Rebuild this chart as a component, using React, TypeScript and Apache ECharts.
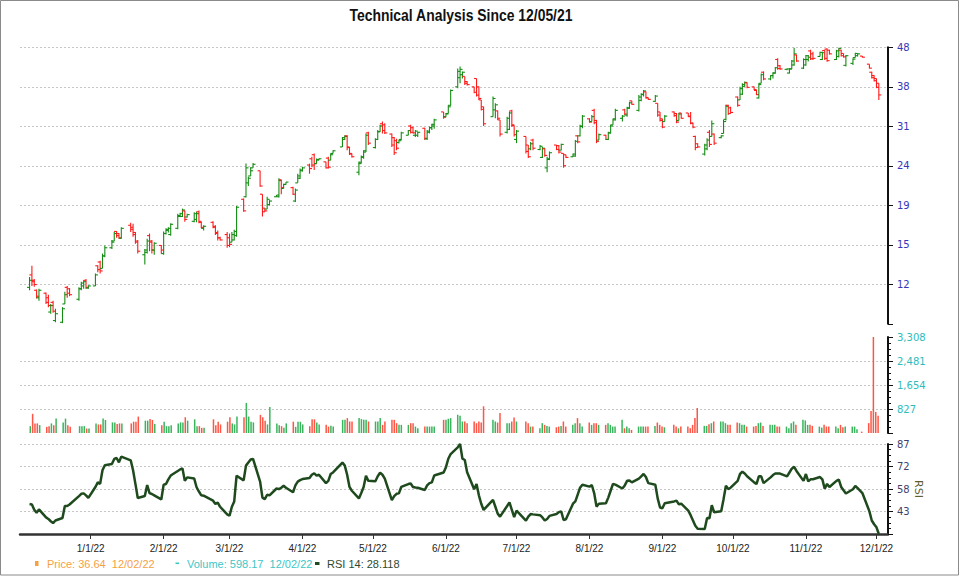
import { useEffect, useRef } from 'react';
import * as echarts from 'echarts';

// ---------------- DATA ----------------
const holidays = ['2021-12-24', '2022-01-17', '2022-02-21', '2022-04-15', '2022-05-30', '2022-06-20', '2022-07-04', '2022-09-05', '2022-11-24'];
const firstTradingDay = '2021-12-06';

// [open, high, low, close] per trading day, 12/06/21 .. 12/02/22
const ohlc: number[][] = [
  [12.0,12.75,11.8,12.5],[12.9,13.6,12.1,12.4],[12.5,12.6,12.05,12.2],[11.8,11.85,11.25,11.4],[11.3,11.9,11.1,11.8],
  [11.6,11.65,10.9,11.0],[11.3,11.5,10.7,10.8],[10.4,10.9,10.3,10.8],[11.0,11.1,10.35,10.45],[9.9,10.6,9.8,10.3],
  [9.8,10.7,9.75,10.6],[10.9,11.7,10.9,11.5],[12.0,12.1,11.3,11.6],[11.9,11.95,11.4,11.5],
  [11.2,12.0,11.1,11.9],[11.9,12.4,11.8,12.3],[12.1,12.5,11.9,12.4],[12.5,12.6,11.9,12.0],[11.95,12.15,11.9,12.1],
  [12.1,13.0,12.1,12.9],[13.6,13.65,13.1,13.3],[13.9,14.0,13.0,13.2],[13.4,14.6,13.4,14.4],[14.4,15.3,14.3,15.1],
  [15.1,15.8,15.0,15.6],[15.7,16.55,15.7,16.4],[16.6,16.65,16.0,16.2],[16.4,16.45,15.9,16.0],[15.95,17.0,15.9,16.9],
  [17.2,17.45,16.55,16.8],[17.0,17.35,16.1,16.3],[16.5,16.55,15.45,15.6],[15.7,15.8,14.6,14.8],
  [14.5,15.0,13.7,14.9],[14.7,15.9,14.6,15.7],[16.2,16.4,14.8,15.6],[15.7,15.8,14.6,14.9],[14.9,15.6,14.5,15.5],
  [15.3,15.35,14.6,14.9],
  [14.6,16.6,14.5,16.4],[16.4,16.9,16.3,16.8],[16.7,17.0,16.5,16.9],[16.3,17.4,16.2,17.3],
  [16.9,18.4,16.8,18.2],[18.1,18.5,18.1,18.4],[18.1,18.95,18.05,18.8],[18.7,18.75,17.55,17.8],[18.05,18.4,18.0,18.3],
  [17.6,18.55,17.5,18.4],[17.8,18.6,17.5,18.4],[18.6,18.75,17.4,17.6],[17.5,17.55,16.9,17.0],[16.9,17.2,16.7,17.1],
  [17.5,17.6,16.9,17.0],[17.1,17.2,16.25,16.4],[16.5,16.7,15.75,16.0],[16.0,16.1,15.75,15.8],
  [16.3,16.55,15.1,15.3],
  [16.0,16.4,15.15,15.4],[15.6,16.55,15.6,16.3],[15.8,16.75,15.75,16.6],[16.2,19.25,16.1,19.1],
  [20.0,20.1,18.6,18.7],[20.3,24.6,20.2,24.0],[22.0,22.8,21.6,22.6],[22.9,24.1,22.9,23.6],[24.0,24.7,24.0,24.5],
  [23.6,23.6,21.5,21.6],[20.6,20.6,18.1,18.6],[19.0,19.0,18.6,18.7],[18.9,20.3,18.9,20.0],[19.4,19.9,19.3,19.8],
  [20.3,20.5,20.3,20.5],[20.3,22.6,20.2,22.3],[22.4,22.4,20.6,21.4],[21.3,21.9,21.3,21.8],[21.8,22.1,21.8,22.1],
  [21.4,21.5,20.5,20.6],[19.8,21.3,19.7,21.1],[22.0,23.2,22.0,22.9],[22.6,23.9,22.5,23.6],
  [23.7,24.15,23.5,24.0],
  [24.4,24.6,23.2,23.9],[25.3,25.6,24.1,24.4],[25.9,26.1,23.7,24.6],[24.6,25.35,24.6,25.2],[25.1,25.35,25.1,25.3],
  [24.85,24.85,23.9,24.0],[25.4,25.6,23.9,24.1],[25.1,26.1,25.1,25.9],[26.1,26.6,26.1,26.5],
  [27.1,28.7,27.1,28.6],[28.3,29.0,28.2,28.8],[28.9,29.0,26.6,27.0],[27.1,27.1,25.85,26.0],[26.1,26.1,25.5,25.6],
  [23.4,24.9,23.0,24.8],[24.6,25.8,24.6,25.6],[25.5,26.6,25.3,26.5],[26.3,29.3,26.3,29.0],[29.4,29.6,27.4,27.7],
  [27.0,28.5,26.85,28.3],[28.3,29.9,28.2,29.6],[29.6,30.8,29.6,30.6],[31.0,31.4,29.3,29.8],[30.8,31.1,29.2,29.4],
  [29.2,29.3,27.1,27.4],[28.6,28.7,25.85,26.2],[28.1,28.4,26.6,26.9],[27.8,28.2,27.65,28.1],[28.3,29.6,28.2,29.4],
  [29.0,29.9,29.0,29.8],[30.6,30.8,29.3,29.5],[30.3,30.5,29.3,29.4],[29.0,29.9,28.7,29.7],[29.0,29.6,28.7,29.5],
  [30.2,30.3,28.2,28.5],[28.4,29.9,28.2,29.7],[29.5,30.5,29.3,30.3],[30.3,31.0,29.9,30.9],[30.6,31.9,30.1,31.7],
  [33.2,33.2,31.9,32.2],
  [32.3,33.0,32.3,32.8],[32.9,34.5,32.9,34.2],[34.5,37.8,34.4,37.6],
  [38.4,42.7,38.1,42.0],[40.5,43.2,39.2,42.5],[41.2,42.0,40.3,41.8],[40.8,40.8,38.8,39.2],[39.6,39.7,38.7,38.9],
  [38.4,38.4,37.0,37.2],[40.3,40.3,36.3,36.6],[38.4,38.5,35.6,35.9],[35.6,35.6,33.5,33.7],[34.2,34.2,30.6,31.0],
  [32.3,36.3,32.3,35.9],[33.6,34.9,32.0,34.6],[33.4,33.5,31.7,32.0],[31.7,31.7,28.8,29.2],
  [29.5,32.3,29.3,32.0],[30.0,33.3,29.9,33.0],[33.4,33.6,30.4,30.8],[30.7,30.7,28.8,29.1],
  [28.3,29.9,27.7,29.7],
  [28.8,28.8,26.1,26.4],[27.4,27.4,25.4,25.6],[26.8,27.9,26.6,27.6],[28.2,28.4,26.6,26.9],
  [26.7,27.4,26.6,27.2],[25.5,27.1,25.4,26.9],[26.8,26.9,25.6,25.8],[24.0,25.6,23.4,25.3],[25.2,26.4,25.1,26.2],
  [27.4,27.4,26.6,26.7],[27.3,27.4,26.1,26.3],[26.6,27.6,26.6,27.5],[26.1,26.1,24.0,24.3],[25.9,25.9,25.4,25.5],
  [25.6,26.1,25.6,26.0],[25.7,28.2,25.6,28.0],[28.9,29.0,27.7,27.9],[28.9,30.8,28.8,30.5],[30.6,32.6,30.2,32.4],
  [31.9,32.0,31.2,31.3],[31.4,32.6,31.4,32.3],[33.5,33.8,30.9,31.2],[31.6,31.7,27.7,28.0],[28.2,29.3,28.2,29.1],
  [29.0,29.1,28.2,28.3],[28.3,29.6,28.2,29.4],[29.4,30.8,29.3,30.6],[30.8,31.9,30.8,31.7],[31.9,33.8,31.6,33.5],
  [32.0,32.6,31.4,32.4],[33.6,33.8,32.6,32.8],[32.6,34.2,32.3,33.9],[34.0,35.2,33.8,35.0],[35.4,35.4,34.6,34.7],
  [33.5,36.6,33.3,36.2],[35.5,37.0,35.3,36.8],[36.7,37.7,36.3,37.5],[37.3,37.4,35.9,36.1],[36.0,36.0,35.6,35.7],
  [35.3,36.6,35.2,36.4],[34.9,34.9,32.3,32.6],[33.2,33.2,31.4,31.6],
  [31.9,31.9,30.2,30.4],[31.4,32.6,31.4,32.4],
  [33.2,33.3,32.3,32.5],[32.9,33.0,31.1,31.3],[31.6,33.0,31.6,32.8],[33.0,33.0,31.9,32.0],
  [33.0,33.0,32.3,32.4],[32.3,33.2,30.9,31.1],[31.1,31.2,30.2,30.4],[28.8,28.9,26.6,27.0],[27.6,27.7,27.0,27.1],
  [26.0,27.6,25.8,27.4],[26.8,28.5,26.6,28.2],[29.5,29.9,27.1,27.5],[28.8,31.6,28.8,31.0],[29.2,29.3,27.4,27.7],
  [28.6,29.0,28.5,28.9],[29.3,31.7,29.3,31.4],[31.8,34.6,31.6,34.3],[34.5,34.6,32.6,32.9],[34.0,34.2,32.9,33.1],
  [36.2,36.3,34.2,34.5],[35.6,38.4,35.6,38.0],[36.8,39.2,36.6,38.9],[38.5,39.6,38.4,39.4],[39.3,39.4,38.1,38.3],
  [38.4,38.4,37.7,37.8],[37.6,37.7,36.6,36.7],[36.0,39.2,35.9,38.9],[39.2,41.5,39.2,41.2],[41.8,42.0,39.9,40.2],
  [40.2,41.1,39.9,41.0],[41.0,41.8,40.3,41.6],[41.6,43.1,41.5,42.9],[45.0,45.3,42.4,42.7],[43.4,43.6,42.4,42.6],
  [42.5,42.7,42.3,42.6],[41.6,42.8,41.5,42.6],[42.6,44.9,42.6,44.6],[43.6,48.2,43.4,46.5],[46.2,46.3,44.4,44.6],
  [42.8,45.3,42.6,45.0],
  [43.6,46.2,43.4,46.0],[45.0,46.2,44.5,45.6],[47.3,47.6,44.9,45.2],[46.5,47.1,44.9,45.3],
  [45.8,47.1,45.8,46.9],[45.0,47.1,44.9,46.8],[47.4,47.6,44.9,45.3],[47.8,48.0,44.4,44.7],[47.5,47.6,46.3,46.5],
  [45.0,47.6,44.9,47.3],[45.8,48.2,45.5,48.0],[47.5,47.6,45.8,46.0],[46.6,46.6,45.5,45.7],[43.5,46.2,43.2,46.0],
  [44.0,45.3,43.6,45.1],[45.5,46.8,45.5,46.6],[46.0,46.6,45.8,46.5],[45.9,45.9,45.5,45.6],
  [43.8,43.8,42.7,42.8],[41.8,41.9,40.3,40.5],[41.0,41.1,39.6,39.8],
  [40.3,40.3,38.1,38.3],[39.2,39.2,35.6,36.64],
];

const volume: number[] = [
  236,660,330,330,271, 212,236,330,271,496, 366,496,271,212, 236,236,236,153,153,
  330,295,295,496,448, 366,366,307,330,330, 330,389,389,566, 425,425,484,448,307, 271,
  389,236,236,271, 330,366,366,543,425, 472,236,236,177,177, 472,271,389,295, 389,
  543,330,295,566, 543,1038,566,389,366, 625,543,425,295,897, 330,271,236,177,330, 389,212,389,389,
  295, 236,472,472,366,295, 280,221,250,221, 454,454,513,396,396, 513,480,454,454,396,
  396,396,513,280,396, 454,454,338,280,280, 280,338,338,221,163, 221,221,221,221,221, 454,
  454,490,513, 629,594,396,396,340, 396,338,396,361,920, 454,396,361,687, 338,338,396,536,
  396, 396,338,221,221, 163,338,280,245,221, 198,221,245,396,221, 280,338,513,338,221,
  361,280,338,338,280, 280,338,280,221,221, 454,163,221,163,105, 221,221,221,221,221, 245,361,280,
  221,198, 280,221,163,221, 221,163,280,513,862, 245,245,303,338,396, 396,396,338,280,280,
  361,338,280,280,221, 221,245,338,361,245, 280,280,280,221,221, 221,163,338,396,280, 454,
  431,280,280,245, 221,186,280,221,221, 221,163,280,198,221, 221,221,128,47, 340,760,3308,
  725,598.17,
];

const rsi: number[] = [
  47.8,47.5,44,42,44.3, 39,38,36.5,35.3,37, 38.6,46.5,46.5,47.5, 53,54.5,54.8,53.5,51.8,
  59,62,61,70,73.3, 74.1,77.4,78,75.2,78.9, 76.5,70,61,51.8, 53.1,60.3,55,54.4,53.5, 50.8,
  60.5,60.9,64,66.5, 69.5,70.5,71.2,63,65.3, 64.5,58.8,56,53.5,53.3, 50,47.8,48.7,46, 41,
  40.1,46,49.5,66.4, 63.3,73,75,77,77.4, 62.5,52,51,53.9,53.5, 58,57.6,58.5,59.8,58.5, 55.5,60,62.5,63.5,
  64.2, 64.9,67,68,66.4,67, 61.5,63,67.5,68.5, 75,73,67,59,56.5, 51.5,55,59,66.4,63,
  62.7,66,68.3,67,64.5, 50.4,53,54.5,54.8,59, 60.9,61.3,59,58.6,58.5, 57,60,61.5,62,66.5, 68.5,
  72,77.5,80.6, 85,87.2,77.6,76.7,68.7, 57.5,60.9,53.5,48,43.9, 50.5,46,41.5,39.5, 46.5,48.9,44,39.2,
  43.5, 36.9,39.5,41.2,41, 40.5,39,37,38,40, 41.2,42.5,43,37.3,37.8, 48,49.5,54,58.5,60.5,
  59.2,60.3,55,46.1,48, 48.3,52,56.5,61,60.5, 58,60,63,63.2,62, 64.5,66,67.5,65.5,61.5, 60.5,51.5,45.5,
  45,48.3, 49.5,50,47.6,48, 43.5,40.5,37,33.5,31.5, 31.4,38.6,38.5,47,42.4, 43,51,59.8,57.6,58.5,
  63,67.5,69,67.8,66, 62,60.9,66,66,61.5, 65.3,66.8,67.8,67.9,67.8, 66,68.5,71,72.2,69.5, 63,
  67.5,62.7,64,64.1, 65.5,64,57.8,61,59, 63,63.8,59,56.8,54.7, 57.5,59.6,58.2,55, 43,37,34.5,
  32.5,28.118,
];

const priceTickLabels = ['48', '38', '31', '24', '19', '15', '12'];
const PRICE_TOP = 48.3;   // value at the top gridline
const PRICE_STEP = 1.2575; // ratio between neighbouring price gridlines (log scale)

const TITLE = 'Technical Analysis Since 12/05/21';

// ---------------- HELPERS ----------------
const DAY = 86400000;

function tradingDays(count: number): number[] {
  const hol = new Set(holidays);
  const out: number[] = [];
  const [y, m, d] = firstTradingDay.split('-').map(Number);
  for (let t = Date.UTC(y, m - 1, d); out.length < count; t += DAY) {
    const dt = new Date(t);
    const wd = dt.getUTCDay();
    if (wd === 0 || wd === 6) continue;
    if (hol.has(dt.toISOString().slice(0, 10))) continue;
    out.push(t);
  }
  return out;
}

const pad = (n: number) => (n < 10 ? '0' + n : '' + n);
const fmtDate = (t: number) => {
  const d = new Date(t);
  return `${pad(d.getUTCMonth() + 1)}/${pad(d.getUTCDate())}/${String(d.getUTCFullYear()).slice(2)}`;
};

const logStep = Math.log(PRICE_STEP);
const toU = (p: number) => Math.log(PRICE_TOP / p) / logStep;

export default function App() {
  const ref = useRef<HTMLDivElement>(null);

  useEffect(() => {
    if (!ref.current) return;
    const chart = echarts.init(ref.current, null, { renderer: 'svg' });

    const dates = tradingDays(ohlc.length);
    const up = ohlc.map((b) => b[3] >= b[0]);
    const last = dates.length - 1;

    const xMin = Date.UTC(2021, 11, 5) - 3.06 * DAY;
    const xMax = Date.UTC(2021, 11, 5) + 365.9 * DAY;

    const maxVol = Math.max(...volume);
    const rsiMin = Math.min(...rsi);
    const rsiMax = Math.max(...rsi);

    const UP = '#148c14';
    const DOWN = '#ff1a1a';
    const VUP = '#3bb45e';
    const VDOWN = '#ff5545';
    const GRID_LINE = { color: '#c6c6c6', type: [2, 2] as any, width: 1 };
    const AXIS_LINE = { color: '#111', width: 2 };

    const hiddenX = (i: number) => ({
      type: 'time', gridIndex: i, min: xMin, max: xMax,
      axisLine: { show: false }, axisTick: { show: false }, axisLabel: { show: false }, splitLine: { show: false },
    });

    const option: any = {
      animation: false,
      useUTC: true,
      backgroundColor: '#ffffff',
      grid: [
        { left: 20, right: 72, top: 47.3, height: 276.5, outerBoundsMode: 'none' },
        { left: 20, right: 72, top: 337, height: 96, outerBoundsMode: 'none' },
        { left: 20, right: 72, top: 444, height: 90, outerBoundsMode: 'none' },
      ],
      xAxis: [
        hiddenX(0),
        hiddenX(1),
        {
          type: 'time', gridIndex: 2, min: xMin, max: xMax,
          splitNumber: 12, minInterval: 28 * DAY, maxInterval: 31 * DAY,
          axisLine: { show: true, lineStyle: { color: '#333', width: 2.5 } },
          axisTick: { show: true, length: 5, lineStyle: { color: '#333', width: 1 } },
          axisLabel: {
            margin: 9, fontSize: 10, fontFamily: 'Liberation Sans, Arial, sans-serif', color: '#222',
            hideOverlap: false,
            formatter: (v: number) => {
              const d = new Date(v);
              if (d.getUTCDate() !== 1 || d.getUTCHours() !== 0) return '';
              return `${d.getUTCMonth() + 1}/1/${String(d.getUTCFullYear()).slice(2)}`;
            },
          },
          splitLine: { show: false },
        },
      ],
      yAxis: [
        {
          type: 'value', gridIndex: 0, position: 'right', inverse: true,
          min: 0, max: priceTickLabels.length, interval: 1,
          axisLine: { show: true, lineStyle: AXIS_LINE },
          axisTick: { show: true, length: 5, lineStyle: { color: '#111' } },
          axisLabel: {
            margin: 9, fontSize: 10, fontFamily: 'DejaVu Sans, Verdana, sans-serif', color: '#3535b8',
            formatter: (v: number) => {
              const k = Math.round(v);
              return Math.abs(v - k) < 1e-6 && priceTickLabels[k] ? priceTickLabels[k] : '';
            },
          },
          splitLine: { show: true, showMaxLine: false, lineStyle: GRID_LINE },
        },
        {
          type: 'value', gridIndex: 1, position: 'right',
          min: 0, max: maxVol, interval: maxVol / 4,
          axisLine: { show: true, lineStyle: AXIS_LINE },
          axisTick: { show: true, length: 5, lineStyle: { color: '#111' } },
          minorTick: { show: true, splitNumber: 4, length: 3, lineStyle: { color: '#111' } },
          axisLabel: {
            margin: 9, fontSize: 10, fontFamily: 'DejaVu Sans, Verdana, sans-serif', color: '#2dbcbc',
            formatter: (v: number) => (v <= 0 ? '' : Math.round(v).toLocaleString('en-US')),
          },
          splitLine: { show: true, showMinLine: false, showMaxLine: false, lineStyle: GRID_LINE },
        },
        {
          type: 'value', gridIndex: 2, position: 'right',
          min: rsiMin, max: rsiMax, interval: (rsiMax - rsiMin) / 4,
          axisLine: { show: true, lineStyle: AXIS_LINE },
          axisTick: { show: true, length: 5, lineStyle: { color: '#111' } },
          minorTick: { show: true, splitNumber: 4, length: 3, lineStyle: { color: '#111' } },
          axisLabel: {
            margin: 9, fontSize: 10, fontFamily: 'DejaVu Sans, Verdana, sans-serif', color: '#3f3f6c',
            formatter: (v: number) => (Math.abs(v - rsiMin) < 1e-6 ? '' : String(Math.round(v))),
          },
          splitLine: { show: true, showMinLine: false, lineStyle: GRID_LINE },
        },
      ],
      series: [
        {
          type: 'custom', name: 'Price', xAxisIndex: 0, yAxisIndex: 0,
          clip: false,
          encode: { x: 0, y: [1, 2, 3, 4] },
          data: dates.map((t, i) => [t, toU(ohlc[i][0]), toU(ohlc[i][1]), toU(ohlc[i][2]), toU(ohlc[i][3]), up[i] ? 1 : 0]),
          renderItem: (_p: any, api: any) => {
            const t = api.value(0);
            const pO = api.coord([t, api.value(1)]);
            const pH = api.coord([t, api.value(2)]);
            const pL = api.coord([t, api.value(3)]);
            const pC = api.coord([t, api.value(4)]);
            const color = api.value(5) ? UP : DOWN;
            const st = { stroke: color, lineWidth: 1.1 };
            return {
              type: 'group',
              children: [
                { type: 'line', shape: { x1: pH[0], y1: pH[1], x2: pL[0], y2: pL[1] }, style: st },
                { type: 'line', shape: { x1: pO[0] - 2.5, y1: pO[1], x2: pO[0], y2: pO[1] }, style: st },
                { type: 'line', shape: { x1: pC[0], y1: pC[1], x2: pC[0] + 2.5, y2: pC[1] }, style: st },
              ],
            };
          },
        },
        {
          type: 'bar', name: 'Volume', xAxisIndex: 1, yAxisIndex: 1, barWidth: 1.5,
          data: dates.map((t, i) => ({ value: [t, volume[i]], itemStyle: { color: up[i] ? VUP : VDOWN } })),
        },
        {
          type: 'line', name: 'RSI 14', xAxisIndex: 2, yAxisIndex: 2,
          symbol: 'none', showSymbol: false,
          lineStyle: { color: '#1e4a1e', width: 2.5 },
          data: dates.map((t, i) => [t, rsi[i]]),
        },
      ],
      graphic: [
        {
          type: 'rect', silent: true, z: 100,
          shape: { x: 0.5, y: 0.5, width: 958, height: 574.5 },
          style: { fill: 'none', stroke: '#8a8a8a', lineWidth: 1 },
        },
        {
          type: 'text', x: 461, y: 15, scaleX: 0.82, originX: 0, z: 100,
          style: {
            text: TITLE, fill: '#111', font: 'bold 17px "Liberation Sans", Arial, sans-serif',
            textAlign: 'center', textVerticalAlign: 'middle', align: 'center', verticalAlign: 'middle',
          },
        },
        {
          type: 'text', x: 918, y: 489, rotation: -Math.PI / 2, z: 100,
          style: {
            text: 'RSI', fill: '#5e5e30', font: '11px "DejaVu Sans", Verdana, sans-serif',
            textAlign: 'center', textVerticalAlign: 'middle', align: 'center', verticalAlign: 'middle',
          },
        },
        { type: 'rect', shape: { x: 35, y: 561, width: 3.5, height: 5 }, style: { fill: '#f5a142' } },
        {
          type: 'text', x: 47, y: 563.5,
          style: {
            text: `Price: ${ohlc[last][3].toFixed(2)}\u00a0\u00a0${fmtDate(dates[last])}`,
            fill: '#f5a142', font: '11px "Liberation Sans", Arial, sans-serif',
            textVerticalAlign: 'middle', verticalAlign: 'middle',
          },
        },
        { type: 'rect', shape: { x: 175.5, y: 562.5, width: 3.5, height: 1.6 }, style: { fill: '#3cc7c7' } },
        {
          type: 'text', x: 187, y: 563.5,
          style: {
            text: `Volume: ${volume[last].toFixed(2)}\u00a0\u00a0${fmtDate(dates[last])}`,
            fill: '#3cc7c7', font: '11px "Liberation Sans", Arial, sans-serif',
            textVerticalAlign: 'middle', verticalAlign: 'middle',
          },
        },
        { type: 'rect', shape: { x: 315, y: 562, width: 4.5, height: 3 }, style: { fill: '#1f4a1f' } },
        {
          type: 'text', x: 327, y: 563.5,
          style: {
            text: `RSI 14: ${rsi[last].toFixed(3)}`,
            fill: '#2e4a2e', font: '11px "Liberation Sans", Arial, sans-serif',
            textVerticalAlign: 'middle', verticalAlign: 'middle',
          },
        },
      ],
    };

    chart.setOption(option);
    return () => chart.dispose();
  }, []);

  return (
    <div
      ref={ref}
      style={{ position: 'fixed', left: 0, top: 0, width: 960, height: 576, background: '#fff' }}
    />
  );
}
